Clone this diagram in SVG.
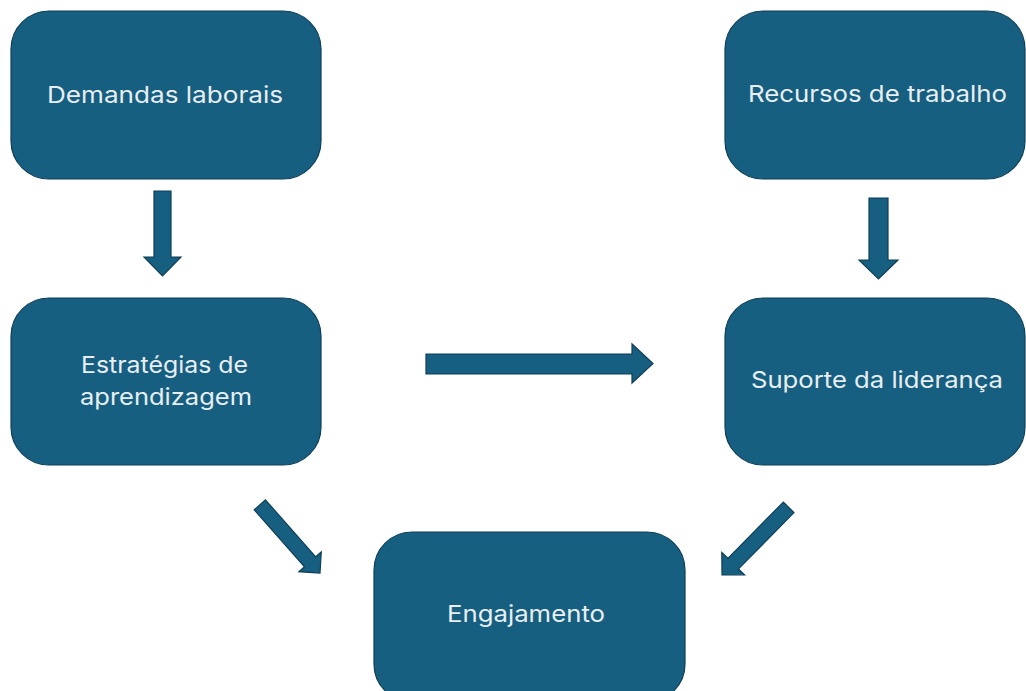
<svg xmlns="http://www.w3.org/2000/svg" width="1026" height="691" viewBox="0 0 1026 691">
<style>
.box{fill:#165f80;stroke:#0f3f57;stroke-width:1.2}
.arr{fill:#165f80;stroke:#0f3f57;stroke-width:1.2;stroke-linejoin:miter}
.lbl{font-family:Inter,"Open Sans","Liberation Sans",sans-serif;font-size:23px;font-weight:400;fill:#e8eef2;text-anchor:middle}
</style>
<rect width="1026" height="691" fill="#ffffff"/>
<g id="connectors">
<polygon class="arr" points="154,191 171,191 171,257 181,257 162.5,276 144,257 154,257"/>
<polygon class="arr" points="869,198 888,198 888,260 898,260 878.5,279 859,260 869,260"/>
<polygon class="arr" points="426,354 632,354 632,344 653,363.5 632,383 632,374 426,374"/>
<polygon class="arr" points="254.2,509.8 265.4,499.8 315.7,556.8 321.3,551.9 320,573 298.9,571.7 304.5,566.8"/>
<polygon class="arr" points="794,512.6 783.4,502 727.9,558.3 721.8,552.4 722,575 744.6,574.8 738.5,568.9"/>
</g>
<g id="node-demandas">
<rect class="box" x="11" y="11" width="310" height="168" rx="38"/>
<text class="lbl" x="165" y="103" textLength="236" lengthAdjust="spacingAndGlyphs">Demandas laborais</text>
</g>
<g id="node-recursos">
<rect class="box" x="725" y="11" width="300" height="168" rx="38"/>
<text class="lbl" x="877.5" y="102" textLength="259" lengthAdjust="spacingAndGlyphs">Recursos de trabalho</text>
</g>
<g id="node-estrategias">
<rect class="box" x="11" y="298" width="310" height="167" rx="38"/>
<text class="lbl" x="164.5" y="373" textLength="167" lengthAdjust="spacingAndGlyphs">Estratégias de</text>
<text class="lbl" x="166" y="405" textLength="172" lengthAdjust="spacingAndGlyphs">aprendizagem</text>
</g>
<g id="node-suporte">
<rect class="box" x="725" y="298" width="300" height="167" rx="38"/>
<text class="lbl" x="877" y="388" textLength="252" lengthAdjust="spacingAndGlyphs">Suporte da liderança</text>
</g>
<g id="node-engajamento">
<rect class="box" x="374" y="532" width="311" height="170" rx="38"/>
<text class="lbl" x="526" y="622" textLength="158" lengthAdjust="spacingAndGlyphs">Engajamento</text>
</g>
</svg>
